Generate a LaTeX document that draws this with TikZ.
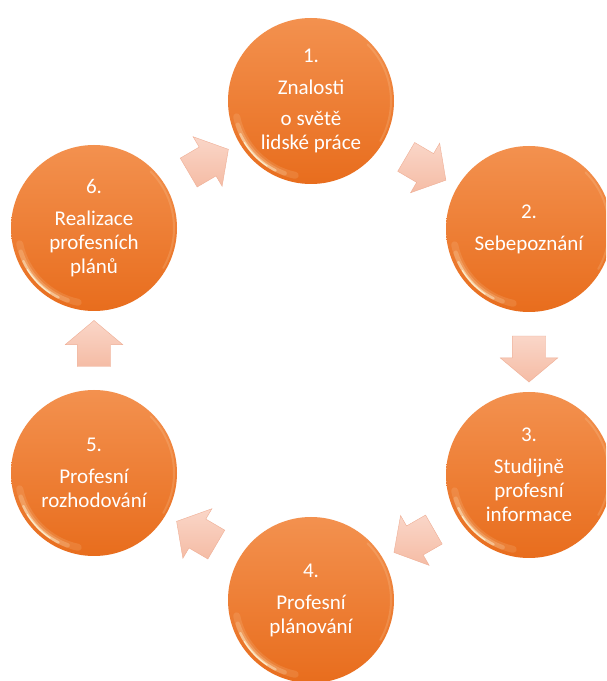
\documentclass[tikz,border=0pt]{standalone}
\usepackage{fontspec}
\setmainfont{Carlito}
\usetikzlibrary{shapes.arrows,calc}
\definecolor{orangetop}{HTML}{F3914F}
\definecolor{orangebot}{HTML}{E86D1D}
\definecolor{arrowfill}{HTML}{F5BCA5}
\definecolor{arrowlight}{HTML}{FAD6C8}
\definecolor{arrowedge}{HTML}{EFAE95}
\definecolor{glint}{HTML}{FFF6D8}
\begin{document}
\begin{tikzpicture}%
	[x=1pt, y=1pt,
	stage/.style={circle, minimum size=166pt, inner sep=0pt, top color=orangetop, bottom color=orangebot, text=white, align=center, font=\fontsize{21}{24}\selectfont},
	blockarrow/.style={single arrow, minimum height=46pt, inner xsep=0pt, inner ysep=16.5pt, single arrow head extend=12pt, single arrow tip angle=100, top color=arrowlight, bottom color=arrowfill, draw=arrowedge, line width=.4pt},
	gloss/.style={glint, line cap=round}]
%
\clip (0,0) rectangle (606,681);
\fill[white] (0,0) rectangle (606,681);
%%
%% the six stages
%%
\node[stage] (c1) at (311,580) {1.\\[8pt] Znalosti\\[7pt] o světě\\ lidské práce};
\node[stage] (c2) at (529,452) {2.\\[8pt] Sebepoznání};
\node[stage] (c3) at (529,206) {3.\\[8pt] Studijně\\ profesní\\ informace};
\node[stage] (c4) at (311,81) {4.\\[8pt] Profesní\\ plánování};
\node[stage] (c5) at (94,208) {5.\\[8pt] Profesní\\ rozhodování};
\node[stage] (c6) at (94,453) {6.\\[8pt] Realizace\\ profesních\\ plánů};
%%
%% gloss on the rims
%%
\foreach \c in {c1,c2,c3,c4,c5,c6} {
	\draw[gloss, line width=7pt, opacity=.12] ($(\c)+(192:76)$) arc (192:258:76);
	\draw[gloss, line width=4.5pt, opacity=.2] ($(\c)+(198:77)$) arc (198:250:77);
	\draw[gloss, line width=2.5pt, opacity=.45] ($(\c)+(205:78)$) arc (205:243:78);
	\draw[gloss, line width=1.2pt, opacity=.8] ($(\c)+(212:78.5)$) arc (212:236:78.5);
	\draw[gloss, line width=2pt, opacity=.15] ($(\c)+(-30:80)$) arc (-30:45:80);
}
%%
%% arrows between the stages
%%
\foreach \a/\b in {c1/c2,c2/c3,c3/c4,c4/c5,c5/c6,c6/c1} {
	\path let \p1=($(\b)-(\a)$), \n1={atan2(\y1,\x1)} in
		node[blockarrow, rotate=\n1] at ($(\a)!0.5!(\b)$) {};
}
\end{tikzpicture}
\end{document}
